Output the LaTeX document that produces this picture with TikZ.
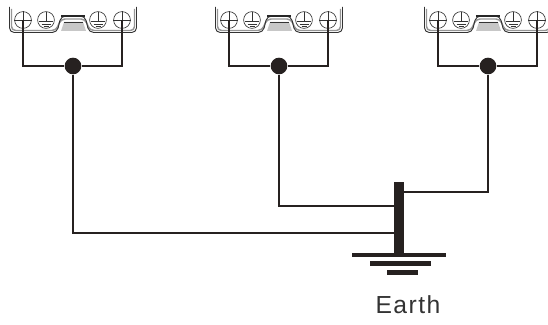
\documentclass[tikz,border=0pt]{standalone}
\usepackage{fontspec}
\setmainfont{Liberation Sans}
\definecolor{wirecolor}{RGB}{38,33,32}
\definecolor{traygray}{RGB}{150,150,150}
\tikzset{
  wire/.style={draw=wirecolor,line width=1.5pt},
  thickwire/.style={draw=wirecolor,line width=2.1pt},
  jointdot/.style={circle,fill=wirecolor,inner sep=0pt,minimum size=12.5pt},
  screw/.style={circle,draw=black!80,line width=0.5pt,fill=white,inner sep=0pt,minimum size=12.6pt},
  thinline/.style={draw=black!80,line width=0.5pt},
  earthbar/.style={rectangle,fill=wirecolor,inner sep=0pt},
  terminalblock/.pic={
    % Tray
    \draw [traygray,line width=1.1pt,rounded corners=3pt] (11.5,9) -- (11.5,30.5) -- (56,30.5) -- (61,19) -- (85,19) -- (90,30.5) -- (134.5,30.5) -- (134.5,9);
    \draw [thinline,line width=0.7pt,rounded corners=3.5pt] (9.5,7) -- (9.5,32.5) -- (57,32.5) -- (61,16) -- (85,16) -- (89,32.5) -- (136.5,32.5) -- (136.5,7);
    % Bridge
    \draw [black!85,line width=1.3pt] (61,16) -- (85,16);
    \fill [black!22] (64,22) -- (83,22) -- (86,31) -- (61,31) -- cycle;
    \draw [thinline] (64,22) -- (83,22);
    % Screws
    \node [screw] (-plusL) at (23,20) {};
    \node [screw] (-earthL) at (46,20) {};
    \node [screw] (-earthR) at (98,20) {};
    \node [screw] (-plusR) at (122,20) {};
    % Signs
    \draw [thinline] (-plusL.west) -- (-plusL.east) (-plusL.north) -- (-plusL.center);
    \draw [thinline] (-plusR.west) -- (-plusR.east) (-plusR.north) -- (-plusR.center);
    \draw [thinline] (46,12) -- (46,21) (39,21) -- (53,21) (41.5,24) -- (50.5,24) (43.5,26.5) -- (48.5,26.5);
    \draw [thinline] (98,12) -- (98,21) (91,21) -- (105,21) (93.5,24) -- (102.5,24) (95.5,26.5) -- (100.5,26.5);
    % Joint
    \node [jointdot] (-joint) at (73,66) {};
    \draw [wire] (-plusL.center) |- (-joint);
    \draw [wire] (-joint) -| (122,62);
    \draw [thickwire] (-plusR.center) -- (122,66);
  }
}
\begin{document}
\begin{tikzpicture}[x=0.75pt,y=-0.75pt]
    \useasboundingbox (0,0) rectangle (548,324);
    % Terminal blocks
    \pic (blockA) at (0,0) {terminalblock};
    \pic (blockB) at (206,0) {terminalblock};
    \pic (blockC) at (415,0) {terminalblock};
    % Earth symbol
    \node [earthbar,minimum width=7.5pt,minimum height=54pt] (mainbar) at (399,217.5) {};
    \node [earthbar,minimum width=70pt,minimum height=3.6pt] (barA) at (399,255) {};
    \node [earthbar,minimum width=46pt,minimum height=3.6pt] (barB) at (400.5,263.5) {};
    \node [earthbar,minimum width=23pt,minimum height=3.6pt] (barC) at (402.5,272.5) {};
    \node [font=\fontsize{18.5}{18.5}\selectfont\addfontfeature{LetterSpace=6},text=black!80] (earthlabel) at (408,305) {Earth};
    % Connection
    \coordinate (inA) at (mainbar.west |- 0,232.5);
    \coordinate (inB) at (mainbar.west |- 0,206);
    \coordinate (inC) at (mainbar.east |- 0,192);
    \draw [wire] (blockA-joint) |- (inA);
    \draw [wire] (blockB-joint) |- (inB);
    \draw [wire] (blockC-joint) |- (inC);
\end{tikzpicture}
\end{document}
